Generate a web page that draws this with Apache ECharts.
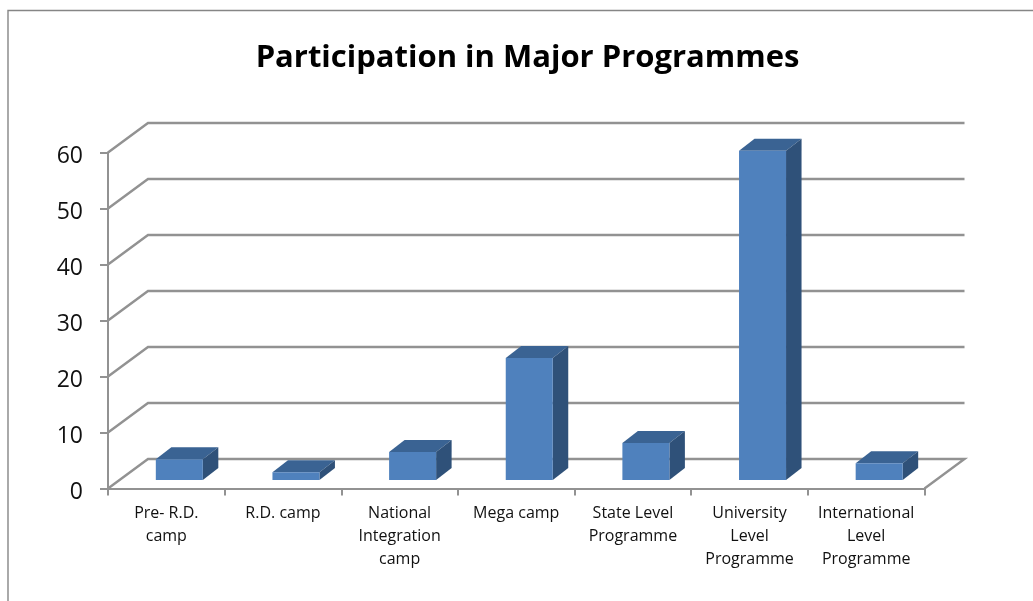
<!DOCTYPE html>
<html><head><meta charset="utf-8">
<style>html,body{margin:0;padding:0;background:#fff}#c{width:1033px;height:601px}</style>
<script src="https://cdn.jsdelivr.net/npm/echarts@6/dist/echarts.min.js"></script>
</head><body><div id="c"></div>
<script>
const titleText = 'Participation in Major Programmes';
const categories = ['Pre- R.D.\ncamp','R.D. camp','National\nIntegration\ncamp','Mega camp','State Level\nProgramme','University\nLevel\nProgramme','International\nLevel\nProgramme'];
const values = [3.7, 1.4, 5, 21.8, 6.6, 58.8, 3];
const ticks = [0,10,20,30,40,50,60];

const wallDX = 40, wallDY = -29.5;      // projection of the back wall
const barDX = 13, floorDY = -8.5;       // where bars stand on the floor
const depthDX = 15.5, depthDY = -12;    // depth of a bar
const GREY = '#929292';
const FONT = 'Open Sans';

const chart = echarts.init(document.getElementById('c'), null, {renderer:'canvas'});
chart.setOption({
  animation:false,
  backgroundColor:'#fff',
  title:{text:titleText,left:522.5,top:38,textAlign:'center',
    textStyle:{fontFamily:FONT,fontWeight:'bold',fontSize:31,color:'#000'}},
  grid:{left:108,top:152.5,width:816.5,height:336},
  xAxis:{type:'category',data:categories,
    axisLine:{lineStyle:{color:GREY,width:2}},
    axisTick:{show:true,length:7,lineStyle:{color:GREY,width:2}},
    axisLabel:{interval:0,margin:13.5,fontFamily:FONT,fontSize:16,lineHeight:23,color:'#111',verticalAlign:'top'},
    splitLine:{show:false}},
  yAxis:{type:'value',min:0,max:60,interval:10,
    axisLine:{show:true,lineStyle:{color:GREY,width:2}},
    axisTick:{show:true,length:8,lineStyle:{color:GREY,width:2}},
    axisLabel:{margin:25,fontFamily:FONT,fontSize:23,color:'#111',verticalAlign:'top',lineHeight:7},
    splitLine:{show:false}},
  graphic:[
    {type:'polyline',silent:true,shape:{points:[[8,601],[8,10.5],[1033,10.5]]},style:{stroke:'#868686',lineWidth:1.4,fill:null}}
  ],
  series:[
    {type:'custom',clip:false,z:1,silent:true,
     data:ticks.map(t=>[0,t]),encode:{x:0,y:1},
     renderItem(params,api){
       const y=api.coord([0,api.value(1)])[1];
       const cs=params.coordSys, x0=cs.x, x1=cs.x+cs.width;
       const pts=[[x0,y],[x0+wallDX,y+wallDY],[x1+wallDX,y+wallDY]];
       if(api.value(1)===0) pts.push([x1,y]);
       return {type:'polyline',shape:{points:pts},style:{stroke:GREY,lineWidth:2.4,fill:null}};
     }},
    {type:'custom',clip:false,z:3,silent:true,
     data:values.map((v,i)=>[i,v]),encode:{x:0,y:1},
     renderItem(params,api){
       const top=api.coord([api.value(0),api.value(1)]);
       const base=api.coord([api.value(0),0]);
       const w=api.size([1,0])[0]*0.403;
       const l=top[0]+barDX-w/2, r=l+w, t=top[1]+floorDY, b=base[1]+floorDY;
       return {type:'group',children:[
         {type:'polygon',shape:{points:[[l,t],[r,t],[r+depthDX,t+depthDY],[l+depthDX,t+depthDY]]},style:{fill:'#3A6393'}},
         {type:'polygon',shape:{points:[[r,t],[r+depthDX,t+depthDY],[r+depthDX,b+depthDY],[r,b]]},style:{fill:'#2F5179'}},
         {type:'polygon',shape:{points:[[l,t],[r,t],[r,b],[l,b]]},style:{fill:'#4F81BD'}}
       ]};
     }}
  ]
});
</script></body></html>
